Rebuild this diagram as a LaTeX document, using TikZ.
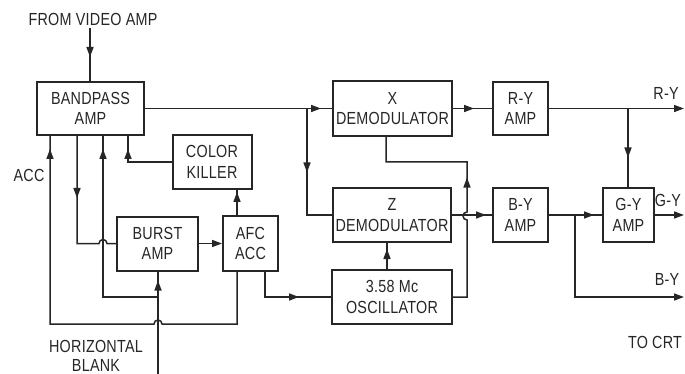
\documentclass[tikz,border=0pt]{standalone}
\usepackage{fontspec}
\setmainfont{Liberation Sans}[FakeStretch=0.82,LetterSpace=1.5]
\usetikzlibrary{arrows.meta,decorations.markings}
\definecolor{ink}{HTML}{262626}
\begin{document}
\begin{tikzpicture}[x=1pt,y=-1pt,
  box/.style={draw=ink,text=ink,line width=2pt,align=center,inner sep=0pt,font=\fontsize{17.5}{20.5}\selectfont},
  wire/.style={color=ink,line width=1.5pt},
  lbl/.style={text=ink,font=\fontsize{17.5}{19}\selectfont,inner sep=0pt,align=center},
  tipm/.style={postaction={decorate},decoration={markings,mark=at position #1 with {\arrow{Triangle[length=10pt,width=7pt]}}}},
  endarr/.style={-{Triangle[length=10pt,width=7pt]}}]
\fill[white] (0,0) rectangle (685,374);
\useasboundingbox (0,0) rectangle (685,374);

% boxes
\node[box,minimum width=107pt,minimum height=53pt] (bp) at (90.5,108.5) {BANDPASS\\AMP};
\node[box,minimum width=79pt,minimum height=54pt] (ck) at (212,162) {COLOR\\KILLER};
\node[box,minimum width=81pt,minimum height=54pt] (burst) at (157.5,243.5) {BURST\\AMP};
\node[box,minimum width=55pt,minimum height=55pt] (afc) at (250.5,243.5) {AFC\\ACC};
\node[box,minimum width=119pt,minimum height=55pt] (xd) at (392.5,108.5) {X\\DEMODULATOR};
\node[box,minimum width=118pt,minimum height=54pt] (zd) at (392,215) {Z\\DEMODULATOR};
\node[box,minimum width=120pt,minimum height=54pt] (osc) at (392,297) {3.58 Mc\\OSCILLATOR};
\node[box,minimum width=55pt,minimum height=53pt] (ry) at (520.5,108.5) {R-Y\\AMP};
\node[box,minimum width=55pt,minimum height=54pt] (by) at (520.5,215) {B-Y\\AMP};
\node[box,minimum width=51pt,minimum height=54pt] (gy) at (628.5,215) {G-Y\\AMP};

% labels
\node[lbl] (tfrom) at (93,19) {FROM VIDEO AMP};
\node[lbl] (tacc) at (29,175) {ACC};
\node[lbl] (thb) at (96,356) {HORIZONTAL\\BLANK};
\node[lbl] (try) at (666,93) {R-Y};
\node[lbl] (tgy) at (668,200) {G-Y};
\node[lbl] (tby) at (667,279) {B-Y};
\node[lbl] (tcrt) at (655,342) {TO CRT};

% coordinates
\coordinate (vin) at (90,28);
\coordinate (j1) at (307,108.5);
\coordinate (ryout) at (684,108.5);
\coordinate (j2) at (628,108.5);
\coordinate (j3) at (575,215);
\coordinate (byout) at (684,297);
\coordinate (gyout) at (684,215);
\coordinate (hbj) at (158,297);
\coordinate (hbin) at (158,374);

% connectors
\draw[wire,tipm=29pt] (vin) -- (vin |- bp.north);
\draw[wire,tipm=-11pt] (bp.east) -- (xd.west);
\draw[wire,tipm=64pt] (j1) |- (zd.west);
\draw[wire,tipm=-18pt] (xd.east) -- (ry.west);
\draw[wire,endarr] (ry.east) -- (ryout);
\draw[wire,tipm=49pt] (j2) -- (j2 |- gy.north);
\draw[wire,tipm=-6pt] (zd.east) -- (by.west);
\draw[wire,tipm=-8pt] (by.east) -- (gy.west);
\draw[wire,endarr] (j3) |- (byout);
\draw[wire,endarr] (gy.east) -- (gyout);
\draw[wire,tipm=20pt] ([xshift=-5pt]osc.north) -- ([xshift=-5pt]zd.south);
\draw[wire,tipm=138pt] (osc.east) -- (467,297) -- (467,220)
   arc[start angle=270,end angle=90,radius=4pt] -- (467,162) -- (386,162) -- ([xshift=-6.5pt]xd.south);
\draw[wire,tipm=-32pt] ([xshift=14.5pt]afc.south) |- (osc.west);
\draw[wire,endarr] (burst.east) -- (afc.west);
\draw[wire,tipm=-2pt] ([xshift=-13.5pt]afc.north) -- ([xshift=-13.5pt]afc.north |- ck.south);
\draw[wire,tipm=-13pt] (ck.west) -| ([xshift=37.5pt]bp.south);
\draw[wire,tipm=62pt] ([xshift=-13.5pt]bp.south) -- (77,243.5) -- (99,243.5)
   arc[start angle=180,end angle=0,radius=4pt] -- (burst.west);
\draw[wire,tipm=-13pt] (hbj) -| ([xshift=12.5pt]bp.south);
\draw[wire,tipm=-9pt] (hbin) -- (hbin |- burst.south);
\draw[wire,tipm=-13pt] ([xshift=-13.5pt]afc.south) -- (237,324) -- (162,324)
   arc[start angle=0,end angle=180,radius=4pt] -- (50,324) -- ([xshift=-40.5pt]bp.south);
\end{tikzpicture}
\end{document}
